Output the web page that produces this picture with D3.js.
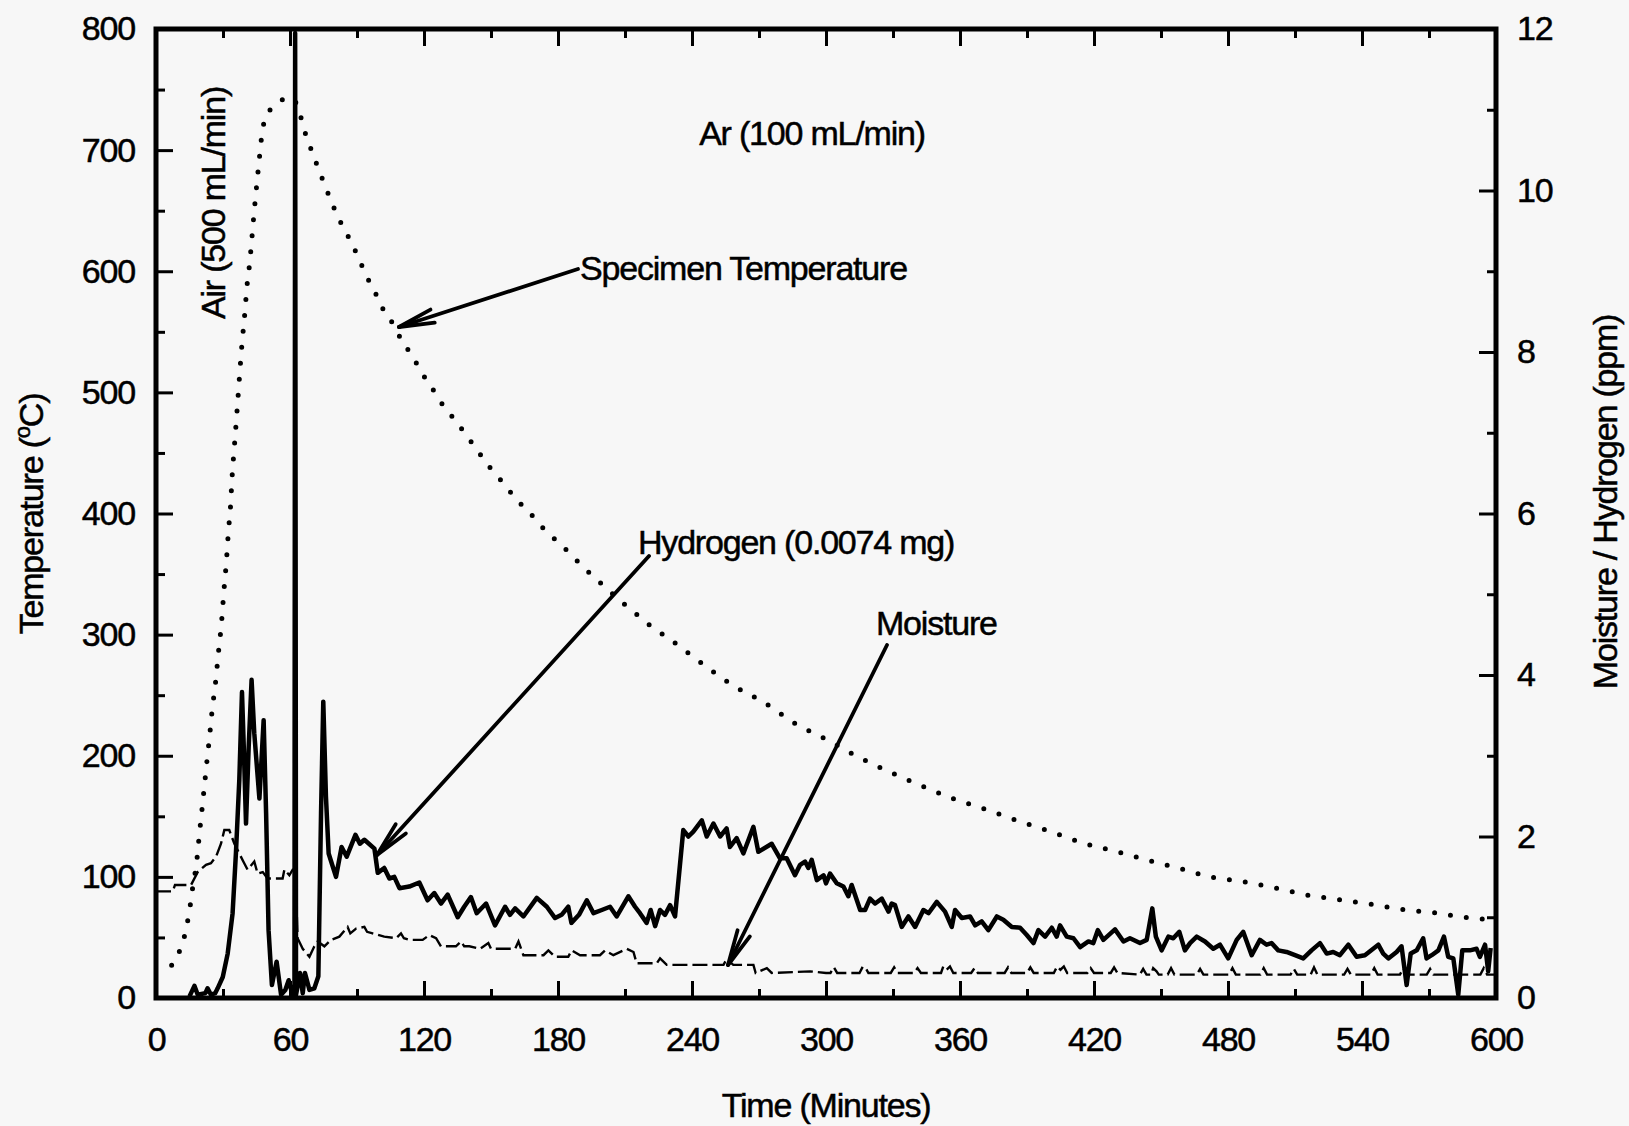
<!DOCTYPE html>
<html><head><meta charset="utf-8">
<script src="https://cdn.jsdelivr.net/npm/d3@7"></script>
<style>
html,body{margin:0;padding:0;background:#f7f7f7;}
svg text{font-family:"Liberation Sans",Arial,sans-serif;fill:#000;stroke:#000;stroke-width:0.5px;letter-spacing:-1.2px;}
</style></head>
<body><svg id="c" width="1629" height="1126"></svg>
<script>
// ---------- DATA ----------
const xTickLabels = [0,60,120,180,240,300,360,420,480,540,600];
const xMinorTicks = [30,90,150,210,270,330,390,450,510,570];
const leftTickLabels = [0,100,200,300,400,500,600,700,800];
const leftMinorTicks = [50,150,250,350,450,550,650,750];
const rightTickLabels = [0,2,4,6,8,10,12];
const rightMinorTicks = [1,3,5,7,9,11];

// Specimen temperature (°C) vs time (min)
const tempTime = [7,11,13,14.5,15.7,16.7,17.9,18.7,19.4,20.1,20.9,21.6,22.4,23.1,23.9,24.6,25.4,26.4,28,29.3,30.4,31.5,32.5,33.3,34.1,35.2,36.3,37.3,38.4,39.7,40.8,41.9,43.2,44.5,46,47.5,49,51.5,54,57,60.5,62,64,66,68.6,71.2,73.9,76.9,80,83.3,87.7,90.9,94,98,101.6,106.3,110.3,114.8,118.7,123.1,127.9,133.5,138.8,143.9,149.5,155.1,161.2,167.6,174.3,181.5,187.9,193.5,200.7,207.9,215.1,222.3,229.5,236.7,243.9,258.4,272.2,285.9,300.7,314.4,329.3,343,357.9,372.7,386.4,401.3,415,429.8,443.5,458.4,472.1,487,501.8,515.5,530.4,545.2,558.9,573.8,588.6,596];
const tempVal  = [27,41,53,67,81,95,108,121,135,147,161,174,188,201,214,228,242,256,286,309,336,360,387,404,431,458,485,511,538,564,589,606,633,660,688,714,727,734,738,742,743,741,733,719,705,692,679,665,651,638,623,610,597,583,569,556,542,530,517,505,491,478,465,452,438,426,412,400,386,374,362,352,340,328,317,306,297,287,277,258,244,227,213,199,186,175,164,155,146,137,128,121,114,107,100,96,90.5,85,81,77,73,70,66,65];

// Hydrogen (ppm)
const h2Time = [15,17.2,18.7,22.1,23.1,24.6,26.5,27.6,29.9,32.1,34.3,35.8,37.3,38.5,39.3,40.3,41.5,42.8,44,46.3,48.2,49.3,50.4,51.9,54,56,57.9,59.4,60.9,62,62.3,62.7,64.5,65.7,66.7,68.7,70.9,72.7,73.9,74.9,76.1,77.3,80.6,83.1,85.4,89.3,91.3,93.3,97.8,99.3,102.2,104.5,106.7,109,113.4,117.9,121.6,124.6,127.6,130.6,135.1,138,141,143.6,147.8,151.8,156.3,158.5,160.8,164.5,170.5,175,178.7,181.6,184.6,186,189.4,192.9,195.9,199.6,203.3,206.3,211.5,214.5,216.7,219.7,221.5,223.5,225.7,227.9,230.2,232.4,236.1,238.4,240.6,244.4,246.6,249.6,252.6,255.5,257,260,263,267.5,269.7,275.7,279.4,282.4,286.1,288.4,290.6,292.1,293.6,295.9,298.9,300,301.8,304.8,307.8,310,311.5,315.3,317.5,319.7,322,325,328,329.4,330.9,333.9,336.9,339.9,343.6,345.9,349.6,353.3,356.3,357.8,360.8,364.5,366.8,369.7,372.7,376.5,379.4,383.2,386.9,389.9,392.9,395.1,398.1,401.1,403.3,404.8,407.8,410.8,413.8,417.5,419.7,421.7,424.2,429.4,433.2,436.1,440.6,443.6,446.1,447.7,450.3,453.3,455.5,458.2,460.7,463,466,469.7,473.4,476.4,480.1,483.9,486.8,490.6,494.3,497.3,499.5,502.5,506.2,510,513.7,517.4,521.2,524.2,527.1,530.1,533.9,537.6,541.3,547.3,549.5,551.8,555.5,557.7,560,561.8,564.5,567.4,568.9,571.2,574.2,576.7,578.6,580.9,583.1,584.9,588.3,591.3,592.8,595.1,596.5,597.6];
const h2Val  = [0.02,0.15,0.04,0.06,0.12,0.04,0.06,0.12,0.26,0.55,1.05,1.80,2.70,3.79,3.11,2.16,3.11,3.94,3.28,2.47,3.44,2.29,0.84,0.16,0.45,0.04,0.10,0.22,0.06,0.04,11.95,0.04,0.31,0.06,0.31,0.10,0.12,0.27,2.29,3.67,2.49,1.79,1.50,1.87,1.75,2.02,1.91,1.96,1.85,1.55,1.61,1.48,1.50,1.36,1.38,1.43,1.21,1.30,1.17,1.28,1.00,1.13,1.25,1.05,1.17,0.90,1.13,1.03,1.11,1.01,1.24,1.13,0.99,1.03,1.13,0.93,1.03,1.21,1.05,1.09,1.13,1.01,1.26,1.13,1.05,0.93,1.09,0.89,1.09,1.03,1.15,1.01,2.08,2.00,2.06,2.20,2.00,2.16,2.00,2.10,1.87,1.98,1.79,2.12,1.81,1.91,1.73,1.73,1.52,1.65,1.69,1.61,1.71,1.46,1.52,1.42,1.54,1.42,1.38,1.26,1.40,1.09,1.09,1.23,1.17,1.23,1.07,1.17,1.15,0.88,1.01,0.88,1.09,1.05,1.19,1.07,0.88,1.09,0.99,1.01,0.90,0.95,0.84,1.01,0.97,0.88,0.87,0.78,0.68,0.84,0.76,0.87,0.76,0.90,0.76,0.74,0.63,0.70,0.68,0.84,0.72,0.85,0.70,0.74,0.68,0.72,1.11,0.76,0.59,0.76,0.74,0.82,0.59,0.68,0.76,0.70,0.61,0.66,0.49,0.72,0.82,0.53,0.72,0.66,0.68,0.59,0.57,0.53,0.49,0.59,0.68,0.55,0.57,0.53,0.66,0.51,0.53,0.66,0.55,0.49,0.57,0.64,0.16,0.55,0.59,0.74,0.49,0.53,0.59,0.76,0.51,0.49,0.04,0.59,0.59,0.61,0.51,0.66,0.33,0.62];

// Moisture (ppm)
const moistTime = [0,7.5,8.5,15.7,18.7,22.4,24.6,26.9,29.1,30.6,32.8,35.1,37.3,39.1,41,44,45.5,47.8,50,56.7,57.5,59.7,61.2,62.4,63.4,65.7,68.7,70.9,72.4,75.4,78.4,82.1,85.8,87,89.6,93.3,94.5,97,102.2,107.5,109.7,111,113.4,119.4,122.4,125.4,127.6,134.3,136.6,138,140.3,145.1,148.8,150,160.8,162.3,164.5,173.5,175.7,178.7,184.6,186.1,189.9,198.8,201.1,204.8,210.8,213.8,215.2,224.2,225.7,228.7,254.1,255.5,258.5,267.5,268.5,273.5,275.7,292.9,300,302,303.5,305,315,316.5,318,319,329,330.5,332,339.5,341,342.5,351.5,352.5,354,355.5,357,365,366.5,368,380,381.5,383,390,391.5,393,402,403.5,405,406.5,408,417,418.5,420,427.5,429,430.5,440.5,442,443.5,445.5,446.5,448,449,453,454.5,456,466,467.5,469,480.5,482,483.5,494.5,496,497.5,508,509.5,511,517,518.5,520,532,533.5,535,544,545.5,547,557,558.5,560,569,570.5,572,593,594.5,596,600];
const moistVal  = [1.32,1.32,1.40,1.40,1.56,1.65,1.67,1.75,1.91,2.08,2.08,1.91,1.79,1.69,1.59,1.69,1.54,1.56,1.48,1.48,1.59,1.52,1.59,1.59,0.74,0.61,0.51,0.64,0.70,0.64,0.72,0.76,0.88,0.80,0.86,0.88,0.82,0.80,0.76,0.74,0.80,0.74,0.72,0.72,0.78,0.74,0.64,0.64,0.70,0.64,0.64,0.61,0.68,0.61,0.61,0.70,0.53,0.53,0.59,0.51,0.51,0.59,0.53,0.53,0.59,0.53,0.61,0.57,0.43,0.43,0.49,0.41,0.41,0.48,0.41,0.41,0.31,0.37,0.31,0.33,0.31,0.31,0.38,0.31,0.31,0.39,0.36,0.31,0.31,0.38,0.31,0.31,0.37,0.31,0.31,0.39,0.35,0.39,0.31,0.31,0.37,0.31,0.31,0.38,0.31,0.31,0.38,0.31,0.31,0.39,0.35,0.39,0.31,0.31,0.37,0.31,0.31,0.38,0.31,0.29,0.36,0.29,0.29,0.37,0.33,0.29,0.29,0.37,0.29,0.29,0.36,0.29,0.29,0.37,0.29,0.29,0.37,0.29,0.29,0.36,0.29,0.29,0.38,0.29,0.29,0.36,0.29,0.29,0.37,0.29,0.29,0.37,0.29,0.29,0.36,0.29,0.29,0.37,0.29,0.29];

// Annotation texts
const labelTemp = "Specimen Temperature";
const labelH2 = "Hydrogen (0.0074 mg)";
const labelMoist = "Moisture";
const labelAir = "Air (500 mL/min)";
const labelAr = "Ar (100 mL/min)";

// ---------- CHART ----------
const svg = d3.select("#c");
const L=156, R=1496, T=29, B=998;
const FS = 34;
svg.append("rect").attr("width",1629).attr("height",1126).attr("fill","#f7f7f7");

const x = d3.scaleLinear().domain([0,600]).range([L,R]);
const yL = d3.scaleLinear().domain([0,800]).range([B,T]);
const yR = d3.scaleLinear().domain([0,12]).range([B,T]);

function styleAxis(g){
  g.select(".domain").remove();
  g.selectAll(".tick line").attr("stroke","#000").attr("stroke-width",3);
  g.selectAll(".tick text").attr("font-size",FS).attr("font-family","Liberation Sans, Arial, sans-serif").attr("fill","#000");
}
// bottom
svg.append("g").attr("transform",`translate(0,${B})`)
  .call(d3.axisBottom(x).tickValues(xTickLabels).tickSize(-17).tickPadding(29).tickFormat(d3.format("d"))).call(styleAxis);
svg.append("g").attr("transform",`translate(0,${B})`)
  .call(d3.axisBottom(x).tickValues(xMinorTicks).tickSize(-9).tickFormat("")).call(styleAxis);
// top
svg.append("g").attr("transform",`translate(0,${T})`)
  .call(d3.axisTop(x).tickValues(xTickLabels).tickSize(-17).tickFormat("")).call(styleAxis);
svg.append("g").attr("transform",`translate(0,${T})`)
  .call(d3.axisTop(x).tickValues(xMinorTicks).tickSize(-9).tickFormat("")).call(styleAxis);
// left
svg.append("g").attr("transform",`translate(${L},0)`)
  .call(d3.axisLeft(yL).tickValues(leftTickLabels).tickSize(-17).tickPadding(21).tickFormat(d3.format("d"))).call(styleAxis);
svg.append("g").attr("transform",`translate(${L},0)`)
  .call(d3.axisLeft(yL).tickValues(leftMinorTicks).tickSize(-9).tickFormat("")).call(styleAxis);
// right
svg.append("g").attr("transform",`translate(${R},0)`)
  .call(d3.axisRight(yR).tickValues(rightTickLabels).tickSize(-17).tickPadding(21).tickFormat(d3.format("d"))).call(styleAxis);
svg.append("g").attr("transform",`translate(${R},0)`)
  .call(d3.axisRight(yR).tickValues(rightMinorTicks).tickSize(-9).tickFormat("")).call(styleAxis);

// Series
const tempData = tempTime.map((t,i)=>[t,tempVal[i]]);
const h2Data = h2Time.map((t,i)=>[t,h2Val[i]]);
const moistData = moistTime.map((t,i)=>[t,moistVal[i]]);

svg.append("path").datum(moistData)
  .attr("d",d3.line().x(d=>x(d[0])).y(d=>yR(d[1])))
  .attr("fill","none").attr("stroke","#000").attr("stroke-width",2.4)
  .attr("stroke-dasharray","15,5");

svg.append("path").datum(tempData)
  .attr("d",d3.line().curve(d3.curveMonotoneX).x(d=>x(d[0])).y(d=>yL(d[1])))
  .attr("fill","none").attr("stroke","#000").attr("stroke-width",5)
  .attr("stroke-linecap","round").attr("stroke-dasharray","0,16");

svg.append("path").datum(h2Data)
  .attr("d",d3.line().x(d=>x(d[0])).y(d=>yR(d[1])))
  .attr("fill","none").attr("stroke","#000").attr("stroke-width",4.5)
  .attr("stroke-linejoin","round");

// Frame
svg.append("rect").attr("x",L).attr("y",T).attr("width",R-L).attr("height",B-T)
  .attr("fill","none").attr("stroke","#000").attr("stroke-width",5);

// Axis titles
svg.append("text").attr("x",(L+R)/2).attr("y",1117).attr("text-anchor","middle")
  .attr("font-size",FS).text("Time (Minutes)");
const tl = svg.append("text").attr("transform","translate(43,514) rotate(-90)")
  .attr("text-anchor","middle").attr("font-size",FS);
tl.append("tspan").text("Temperature (");
tl.append("tspan").attr("font-size",22).attr("dy",-13).text("o");
tl.append("tspan").attr("dy",13).text("C)");
svg.append("text").attr("transform","translate(1617,502) rotate(-90)")
  .attr("text-anchor","middle").attr("font-size",FS).text("Moisture / Hydrogen (ppm)");

// Annotations
svg.append("text").attr("transform","translate(225,203) rotate(-90)")
  .attr("text-anchor","middle").attr("font-size",FS).text(labelAir);
svg.append("text").attr("x",812).attr("y",145).attr("text-anchor","middle")
  .attr("font-size",FS).text(labelAr);
svg.append("text").attr("x",580).attr("y",280).attr("font-size",FS).text(labelTemp);
svg.append("text").attr("x",638).attr("y",554).attr("font-size",FS).text(labelH2);
svg.append("text").attr("x",876).attr("y",635).attr("font-size",FS).text(labelMoist);

function arrow(x1,y1,x2,y2){
  const g = svg.append("g").attr("stroke","#000").attr("stroke-width",3.8).attr("fill","none").attr("stroke-linecap","round");
  g.append("line").attr("x1",x1).attr("y1",y1).attr("x2",x2).attr("y2",y2);
  const a = Math.atan2(y1-y2,x1-x2), len=36, da=11*Math.PI/180;
  [a-da,a+da].forEach(b=>{
    g.append("line").attr("x1",x2).attr("y1",y2).attr("x2",x2+len*Math.cos(b)).attr("y2",y2+len*Math.sin(b));
  });
}
arrow(578,269,399,327);
arrow(649,556,377,855);
arrow(887,645,728,965);
</script></body></html>
